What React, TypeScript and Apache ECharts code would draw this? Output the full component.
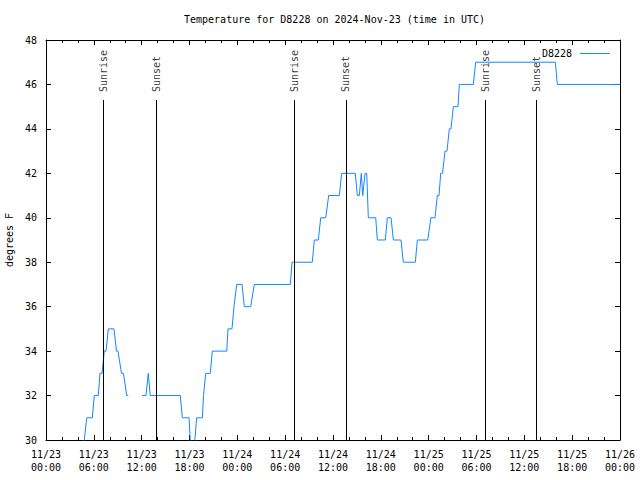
import React, { useEffect, useRef } from "react";
import * as echarts from "echarts";

// hours since 2024-11-23 00:00 UTC
const times: number[] = [
  4.27, 4.8, 5.11, 5.81, 6.06, 6.56, 6.77, 7.03, 7.31, 7.53, 7.82, 8.53, 8.84, 9.03,
  9.47, 9.72, 10.12, 10.32, 11.2, 12.04, 12.54, 12.83, 13.08, 16.85, 17.1, 17.94,
  18.25, 18.44, 18.9, 19.61, 19.76, 20.03, 20.61, 20.86, 22.67, 22.83, 23.33, 23.58,
  23.92, 24.59, 24.87, 25.68, 26.13, 30.65, 30.86, 33.4, 33.66, 34.16, 34.46, 35.09,
  35.46, 36.79, 37.09, 38.8, 39.05, 39.3, 39.55, 39.73, 40.02, 40.23, 40.43, 41.36,
  41.56, 42.56, 42.81, 43.28, 43.57, 44.53, 44.82, 46.33, 46.58, 47.88, 48.29, 48.8,
  49.08, 49.3, 49.51, 49.74, 50.05, 50.3, 50.59, 50.8, 51.09, 51.68, 51.84, 53.6,
  53.9, 63.89, 64.14, 72.0,
];
const temps: (number | null)[] = [
  29, 30, 31, 31, 32, 32, 33, 33, 34, 34, 35, 35, 34, 34,
  33, 33, 32, 32, null, 32, 32, 33, 32, 32, 31, 31,
  29, 29, 31, 31, 32, 33, 33, 34, 34, 35, 35, 36,
  37, 37, 36, 36, 37, 37, 38, 38, 39, 39, 40, 40,
  41, 41, 42, 42, 41, 41, 42, 41, 42, 42, 40, 40,
  39, 39, 40, 40, 39, 39, 38, 38, 39, 39, 40, 40,
  41, 41, 42, 42, 43, 43, 44, 44, 45, 45, 46, 46,
  47, 47, 46, 46,
];

const sunNames: string[] = ["Sunrise", "Sunset", "Sunrise", "Sunset", "Sunrise", "Sunset"];
const sunTimes: number[] = [7.16, 13.88, 31.12, 37.62, 55.16, 61.54];

const xTickLabels: string[] = [
  "11/23\n00:00", "11/23\n06:00", "11/23\n12:00", "11/23\n18:00",
  "11/24\n00:00", "11/24\n06:00", "11/24\n12:00", "11/24\n18:00",
  "11/25\n00:00", "11/25\n06:00", "11/25\n12:00", "11/25\n18:00",
  "11/26\n00:00",
];

const Y_MIN = 30;
const Y_MAX = 48;
const SUN_LINE_TOP = 45.3;
const SUN_LABEL_BASE = 45.66;

const FONT = "'DejaVu Sans Mono', monospace";
const LINE_COLOR = "#1585ff";

export default function App() {
  const ref = useRef<HTMLDivElement>(null);

  useEffect(() => {
    if (!ref.current) return;
    const chart = echarts.init(ref.current, undefined, { renderer: "svg" });

    const seriesData = times.map((t, i) => [t, temps[i]]);

    const axisCommonX = {
      type: "value" as const,
      min: 0,
      max: 72,
      interval: 6,
      splitLine: { show: false },
      axisLine: { show: true, onZero: false, lineStyle: { color: "#000", width: 1 } },
      axisTick: { show: true, inside: true, length: 5, lineStyle: { color: "#000" } },
      minorTick: { show: true, splitNumber: 3, length: 3, lineStyle: { color: "#000" } },
    };
    const axisCommonY = {
      type: "value" as const,
      min: Y_MIN,
      max: Y_MAX,
      interval: 2,
      splitLine: { show: false },
      axisLine: { show: true, onZero: false, lineStyle: { color: "#000", width: 1 } },
      axisTick: { show: true, inside: true, length: 5, lineStyle: { color: "#000" } },
    };

    chart.setOption({
      animation: false,
      backgroundColor: "#fff",
      textStyle: { fontFamily: FONT },
      title: {
        text: "Temperature for D8228 on 2024-Nov-23 (time in UTC)",
        left: 179,
        top: 9,
        textStyle: { fontFamily: FONT, fontSize: 10, fontWeight: "normal", color: "#000" },
      },
      legend: {
        data: ["D8228"],
        right: 25,
        top: 43.5,
        align: "right",
        icon: "rect",
        itemWidth: 30,
        itemHeight: 1,
        textStyle: { fontFamily: FONT, fontSize: 10, color: "#000", padding: [0, 3, 0, 0] },
      },
      grid: {
        left: 46,
        right: 20,
        top: 40,
        bottom: 40,
        containLabel: false,
        outerBoundsMode: "none",
      },
      xAxis: [
        {
          ...axisCommonX,
          position: "bottom",
          axisLabel: {
            show: true,
            margin: 8,
            fontFamily: FONT,
            fontSize: 10,
            color: "#000",
            lineHeight: 13,
            showMinLabel: true,
            showMaxLabel: true,
            formatter: (v: number) => xTickLabels[Math.round(v / 6)] ?? "",
          },
        },
        { ...axisCommonX, position: "top", axisLabel: { show: false } },
      ],
      yAxis: [
        {
          ...axisCommonY,
          position: "left",
          name: "degrees F",
          nameLocation: "middle",
          nameRotate: 90,
          nameGap: 32,
          nameTextStyle: { fontFamily: FONT, fontSize: 10, color: "#000" },
          axisLabel: { show: true, margin: 9, fontFamily: FONT, fontSize: 10, color: "#000" },
        },
        { ...axisCommonY, position: "right", axisLabel: { show: false } },
      ],
      series: [
        {
          name: "D8228",
          type: "line",
          xAxisIndex: 0,
          yAxisIndex: 0,
          data: seriesData,
          symbol: "none",
          showSymbol: false,
          connectNulls: false,
          clip: true,
          lineStyle: { color: LINE_COLOR, width: 1 },
          itemStyle: { color: LINE_COLOR },
          z: 3,
        },
        {
          name: "sun",
          type: "scatter",
          xAxisIndex: 0,
          yAxisIndex: 0,
          symbolSize: 0.1,
          itemStyle: { color: "rgba(0,0,0,0)" },
          data: sunTimes.map((t, i) => [t, SUN_LABEL_BASE, sunNames[i]]),
          label: {
            show: true,
            position: "inside",
            rotate: 90,
            align: "left",
            verticalAlign: "middle",
            fontFamily: FONT,
            fontSize: 10,
            color: "#000",
            formatter: (p: any) => p.data[2],
          },
          markLine: {
            silent: true,
            symbol: ["none", "none"],
            label: { show: false },
            lineStyle: { color: "#000", width: 1, type: "solid" },
            data: sunTimes.map((t) => [
              { coord: [t, Y_MIN] },
              { coord: [t, SUN_LINE_TOP] },
            ]),
          },
          z: 2,
        },
      ],
    });

    return () => chart.dispose();
  }, []);

  return (
    <div
      ref={ref}
      style={{ position: "fixed", left: 0, top: 0, width: 640, height: 480 }}
    />
  );
}
